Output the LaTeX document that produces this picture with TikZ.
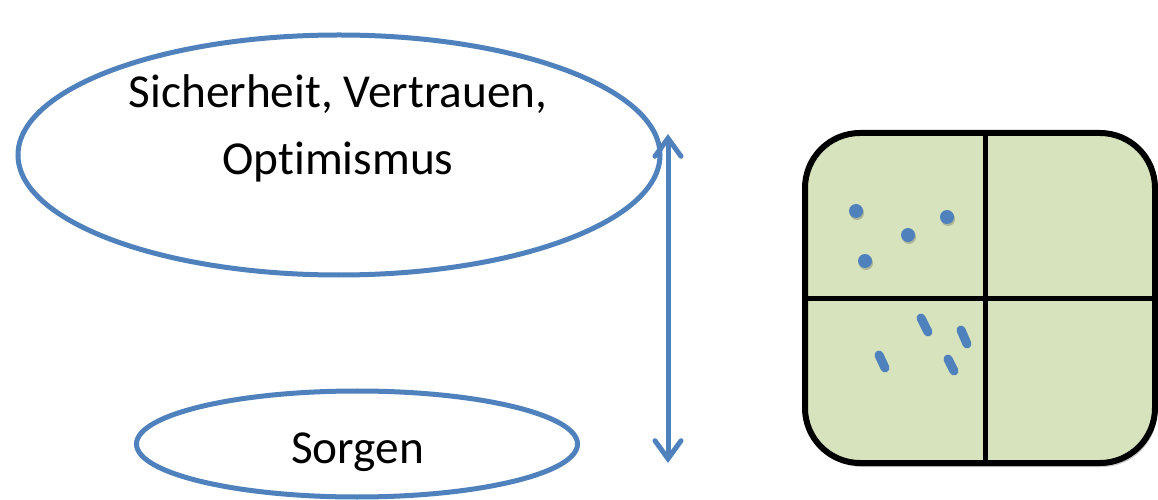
\documentclass[tikz,border=0pt]{standalone}
\usepackage{fontspec}
\setmainfont{Carlito}[Ligatures=NoCommon]
\usetikzlibrary{shapes.geometric,arrows.meta,shadows}
\definecolor{oblue}{HTML}{4F81BD}
\definecolor{ogreen}{HTML}{D7E3BC}
\tikzset{
  oval/.style={ellipse, draw=oblue, line width=5bp, fill=white, inner sep=0pt},
  ovaltext/.style={anchor=base, inner sep=0pt, font=\fontsize{47.5}{57}\selectfont},
  quad/.style={draw=black, line width=6bp, fill=ogreen, rounded corners=55bp, inner sep=0pt,
    drop shadow={shadow xshift=2bp, shadow yshift=-4bp, opacity=0.3, fill=black!70}},
  divider/.style={draw=black, line width=5bp},
  dotmark/.style={circle, fill=oblue, inner sep=0pt, minimum size=14bp,
    drop shadow={shadow xshift=1bp, shadow yshift=-2bp, opacity=0.2, fill=black}},
  dashmark/.style={draw=oblue, line width=9bp, line cap=round},
  vardarrow/.style={draw=oblue, line width=5bp, {Straight Barb[length=18bp, width=26bp, line cap=round]}-{Straight Barb[length=18bp, width=26bp, line cap=round]}}
}
\begin{document}
\begin{tikzpicture}[x=1bp, y=-1bp]
\useasboundingbox (0,0) rectangle (1158,500);
\node[oval, minimum width=642bp, minimum height=240bp] (top) at (339,155) {};
\node[ovaltext] (topl1) at (338,108) {Sicherheit, Vertrauen,};
\node[ovaltext] (topl2) at (338,175) {Optimismus};
\node[oval, minimum width=441bp, minimum height=106bp] (bottom) at (357,444) {};
\node[ovaltext] (bottoml) at (357.5,463) {Sorgen};
\coordinate (atop) at (668,134);
\coordinate (abot) at (668,463);
\draw[vardarrow] (abot) -- (atop);
\node[quad, minimum width=350bp, minimum height=330bp] (box) at (980,298) {};
\coordinate (vt) at (985,133);
\coordinate (vb) at (985,463);
\coordinate (hl) at (805,299);
\coordinate (hr) at (1155,299);
\draw[divider] (vt) -- (vb);
\draw[divider] (hl) -- (hr);
\node[dotmark] (d1) at (856,211) {};
\node[dotmark] (d2) at (908,235) {};
\node[dotmark] (d3) at (947,217) {};
\node[dotmark] (d4) at (865,261) {};
\coordinate (s1a) at (921,318); \coordinate (s1b) at (928,332);
\coordinate (s2a) at (961,330); \coordinate (s2b) at (967,344);
\coordinate (s3a) at (879,355); \coordinate (s3b) at (885,368);
\coordinate (s4a) at (948,359); \coordinate (s4b) at (954,371);
\draw[dashmark] (s1a) -- (s1b);
\draw[dashmark] (s2a) -- (s2b);
\draw[dashmark] (s3a) -- (s3b);
\draw[dashmark] (s4a) -- (s4b);
\end{tikzpicture}
\end{document}
